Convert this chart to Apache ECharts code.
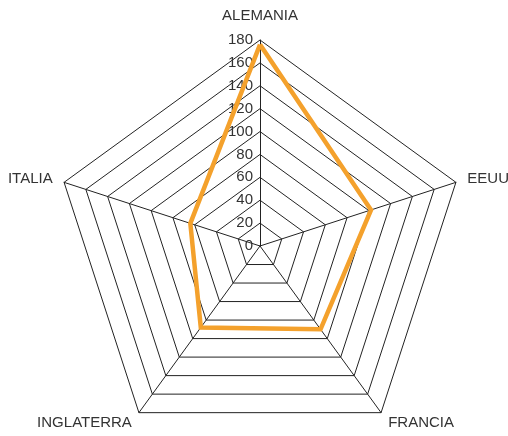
<!DOCTYPE html>
<html>
<head>
<meta charset="utf-8">
<script src="https://cdn.jsdelivr.net/npm/echarts@6/dist/echarts.min.js"></script>
<style>html,body{margin:0;padding:0;background:#fff}#c{width:508px;height:436px}</style>
</head>
<body>
<div id="c"></div>
<script>
// Listed in the order the chart is drawn (counter-clockwise from the top in ECharts)
var categories = ['ALEMANIA', 'ITALIA', 'INGLATERRA', 'FRANCIA', 'EEUU'];
var values = [176, 64, 88, 90, 102];
var axisMax = 180;
var splitCount = 9;

var chart = echarts.init(document.getElementById('c'), null, {renderer: 'canvas'});
var indicators = categories.map(function (name, i) {
  var ind = {name: name, min: 0, max: axisMax};
  if (i === 0) {
    ind.axisLabel = {show: true, color: '#333', fontSize: 15, fontFamily: 'Liberation Sans, Arial, sans-serif', margin: 7};
  }
  return ind;
});
chart.setOption({
  animation: false,
  radar: {
    center: [260, 246],
    radius: 206,
    startAngle: 90,
    splitNumber: splitCount,
    shape: 'polygon',
    indicator: indicators,
    nameGap: 12,
    axisName: {
      color: '#333', fontSize: 15, fontFamily: 'Liberation Sans, Arial, sans-serif',
      formatter: function (name) {
        return name === categories[0] ? '{top|' + name + '}' : name;
      },
      rich: {
        top: {color: '#333', fontSize: 15, fontFamily: 'Liberation Sans, Arial, sans-serif', padding: [0, 0, 5, 0]}
      }
    },
    axisLine: {lineStyle: {color: '#222', width: 1}},
    splitLine: {lineStyle: {color: '#222', width: 1}},
    splitArea: {show: false},
    axisTick: {show: false},
    axisLabel: {show: false}
  },
  series: [{
    type: 'radar',
    symbol: 'none',
    lineStyle: {color: '#F4A12C', width: 4.5, join: 'miter'},
    itemStyle: {color: '#F4A12C'},
    data: [{value: values}]
  }]
});
</script>
</body>
</html>
